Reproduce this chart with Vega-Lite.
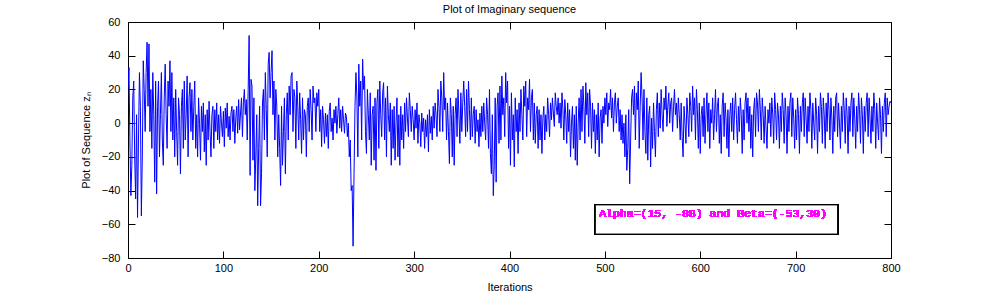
{
"$schema":"https://vega.github.io/schema/vega-lite/v6.json",
"autosize":{"type":"none"},
"width":763,"height":236,
"padding":{"left":128,"top":22,"right":94,"bottom":39},
"background":"white",
"title":{"text":"Plot of Imaginary sequence","font":"Liberation Sans","fontSize":11,"fontWeight":"normal","color":"black","offset":1},
"config":{"view":{"stroke":"black","strokeWidth":1},
"axis":{"grid":false,"domain":false,"ticks":true,"zindex":1,"tickColor":"black","tickWidth":1,"tickOpacity":1,"tickSize":7,"offset":-7,"labelFlush":false,"labelFont":"Liberation Sans","labelFontSize":11,"labelColor":"black","titleFont":"Liberation Sans","titleFontSize":11,"titleFontWeight":"normal","titleColor":"black"}},
"data":{"values":[
{"i":0,"v":20},{"i":1,"v":33},{"i":2,"v":-10},{"i":3,"v":-43},{"i":4,"v":-25},{"i":5,"v":15},{"i":6,"v":25},{"i":7,"v":-20},{"i":8,"v":-45},{"i":9,"v":5},
{"i":10,"v":-56},{"i":11,"v":-10},{"i":12,"v":30},{"i":13,"v":10},{"i":14,"v":-55},{"i":15,"v":-20},{"i":16,"v":37},{"i":17,"v":20},{"i":18,"v":-5},{"i":19,"v":30},
{"i":20,"v":48},{"i":21,"v":10},{"i":22,"v":47},{"i":23,"v":-5},{"i":24,"v":20},{"i":25,"v":-15},{"i":26,"v":30},{"i":27,"v":5},{"i":28,"v":-35},{"i":29,"v":25},
{"i":30,"v":-42},{"i":31,"v":10},{"i":32,"v":25},{"i":33,"v":-20},{"i":34,"v":5},{"i":35,"v":30},{"i":36,"v":-10},{"i":37,"v":-25},{"i":38,"v":15},{"i":39,"v":35},
{"i":40,"v":5},{"i":41,"v":-15},{"i":42,"v":25},{"i":43,"v":10},{"i":44,"v":37},{"i":45,"v":-5},{"i":46,"v":30},{"i":47,"v":-10},{"i":48,"v":15},{"i":49,"v":-20},
{"i":50,"v":20},{"i":51,"v":-5},{"i":52,"v":-25},{"i":53,"v":15},{"i":54,"v":5},{"i":55,"v":-30},{"i":56,"v":10},{"i":57,"v":20},{"i":58,"v":-15},{"i":59,"v":25},
{"i":60,"v":-10},{"i":61,"v":5},{"i":62,"v":28},{"i":63,"v":-20},{"i":64,"v":15},{"i":65,"v":24},{"i":66,"v":-5},{"i":67,"v":20},{"i":68,"v":-10},{"i":69,"v":10},
{"i":70,"v":25},{"i":71,"v":-15},{"i":72,"v":5},{"i":73,"v":-20},{"i":74,"v":15},{"i":75,"v":0},{"i":76,"v":-22},{"i":77,"v":10},{"i":78,"v":-5},{"i":79,"v":12},
{"i":80,"v":-17},{"i":81,"v":5},{"i":82,"v":-25},{"i":83,"v":8},{"i":84,"v":-10},{"i":85,"v":13},{"i":86,"v":-5},{"i":87,"v":-20},{"i":88,"v":5},{"i":89,"v":10},
{"i":90,"v":-15},{"i":91,"v":8},{"i":92,"v":-5},{"i":93,"v":12},{"i":94,"v":-10},{"i":95,"v":5},{"i":96,"v":-12},{"i":97,"v":10},{"i":98,"v":0},{"i":99,"v":-8},
{"i":100,"v":7},{"i":101,"v":-14},{"i":102,"v":9},{"i":103,"v":-3},{"i":104,"v":12},{"i":105,"v":-8},{"i":106,"v":4},{"i":107,"v":-10},{"i":108,"v":6},{"i":109,"v":10},
{"i":110,"v":-5},{"i":111,"v":8},{"i":112,"v":-12},{"i":113,"v":3},{"i":114,"v":10},{"i":115,"v":-6},{"i":116,"v":14},{"i":117,"v":-4},{"i":118,"v":6},{"i":119,"v":15},
{"i":120,"v":-8},{"i":121,"v":12},{"i":122,"v":20},{"i":123,"v":5},{"i":124,"v":14},{"i":125,"v":-10},{"i":126,"v":20},{"i":127,"v":52},{"i":128,"v":-31},{"i":129,"v":26},
{"i":130,"v":22},{"i":131,"v":-22},{"i":132,"v":15},{"i":133,"v":-40},{"i":134,"v":-20},{"i":135,"v":5},{"i":136,"v":-49},{"i":137,"v":-15},{"i":138,"v":10},{"i":139,"v":-49},
{"i":140,"v":-30},{"i":141,"v":12},{"i":142,"v":20},{"i":143,"v":-10},{"i":144,"v":30},{"i":145,"v":8},{"i":146,"v":-20},{"i":147,"v":35},{"i":148,"v":42},{"i":149,"v":15},
{"i":150,"v":30},{"i":151,"v":43},{"i":152,"v":5},{"i":153,"v":25},{"i":154,"v":-10},{"i":155,"v":20},{"i":156,"v":10},{"i":157,"v":-20},{"i":158,"v":5},{"i":159,"v":-15},
{"i":160,"v":-37},{"i":161,"v":10},{"i":162,"v":-25},{"i":163,"v":-5},{"i":164,"v":15},{"i":165,"v":-30},{"i":166,"v":5},{"i":167,"v":18},{"i":168,"v":-10},{"i":169,"v":22},
{"i":170,"v":5},{"i":171,"v":28},{"i":172,"v":30},{"i":173,"v":-5},{"i":174,"v":20},{"i":175,"v":15},{"i":176,"v":-15},{"i":177,"v":25},{"i":178,"v":10},{"i":179,"v":-10},
{"i":180,"v":18},{"i":181,"v":2},{"i":182,"v":-18},{"i":183,"v":15},{"i":184,"v":-10},{"i":185,"v":8},{"i":186,"v":5},{"i":187,"v":-20},{"i":188,"v":10},{"i":189,"v":15},
{"i":190,"v":-5},{"i":191,"v":20},{"i":192,"v":8},{"i":193,"v":-10},{"i":194,"v":22},{"i":195,"v":12},{"i":196,"v":15},{"i":197,"v":-5},{"i":198,"v":18},{"i":199,"v":10},
{"i":200,"v":20},{"i":201,"v":-5},{"i":202,"v":8},{"i":203,"v":-14},{"i":204,"v":10},{"i":205,"v":2},{"i":206,"v":-12},{"i":207,"v":6},{"i":208,"v":-8},{"i":209,"v":5},
{"i":210,"v":-15},{"i":211,"v":7},{"i":212,"v":12},{"i":213,"v":-5},{"i":214,"v":3},{"i":215,"v":-10},{"i":216,"v":8},{"i":217,"v":0},{"i":218,"v":10},{"i":219,"v":-6},
{"i":220,"v":5},{"i":221,"v":15},{"i":222,"v":-3},{"i":223,"v":8},{"i":224,"v":-5},{"i":225,"v":10},{"i":226,"v":2},{"i":227,"v":-6},{"i":228,"v":6},{"i":229,"v":4},
{"i":230,"v":-8},{"i":231,"v":0},{"i":232,"v":-20},{"i":233,"v":-10},{"i":234,"v":-40},{"i":235,"v":-37},{"i":236,"v":-73},{"i":237,"v":-30},{"i":238,"v":10},{"i":239,"v":30},
{"i":240,"v":15},{"i":241,"v":-20},{"i":242,"v":35},{"i":243,"v":10},{"i":244,"v":25},{"i":245,"v":-10},{"i":246,"v":38},{"i":247,"v":20},{"i":248,"v":28},{"i":249,"v":-5},
{"i":250,"v":-18},{"i":251,"v":20},{"i":252,"v":5},{"i":253,"v":-10},{"i":254,"v":18},{"i":255,"v":-25},{"i":256,"v":5},{"i":257,"v":10},{"i":258,"v":-22},{"i":259,"v":15},
{"i":260,"v":-28},{"i":261,"v":12},{"i":262,"v":20},{"i":263,"v":-15},{"i":264,"v":25},{"i":265,"v":5},{"i":266,"v":-8},{"i":267,"v":18},{"i":268,"v":24},{"i":269,"v":-10},
{"i":270,"v":15},{"i":271,"v":-20},{"i":272,"v":22},{"i":273,"v":5},{"i":274,"v":-5},{"i":275,"v":12},{"i":276,"v":-25},{"i":277,"v":8},{"i":278,"v":-15},{"i":279,"v":10},
{"i":280,"v":-22},{"i":281,"v":0},{"i":282,"v":15},{"i":283,"v":-20},{"i":284,"v":5},{"i":285,"v":-25},{"i":286,"v":10},{"i":287,"v":-10},{"i":288,"v":5},{"i":289,"v":-15},
{"i":290,"v":12},{"i":291,"v":-5},{"i":292,"v":15},{"i":293,"v":3},{"i":294,"v":-8},{"i":295,"v":18},{"i":296,"v":8},{"i":297,"v":-5},{"i":298,"v":10},{"i":299,"v":2},
{"i":300,"v":-10},{"i":301,"v":8},{"i":302,"v":-3},{"i":303,"v":12},{"i":304,"v":-12},{"i":305,"v":5},{"i":306,"v":0},{"i":307,"v":-14},{"i":308,"v":6},{"i":309,"v":-5},
{"i":310,"v":3},{"i":311,"v":-15},{"i":312,"v":2},{"i":313,"v":-8},{"i":314,"v":5},{"i":315,"v":-17},{"i":316,"v":8},{"i":317,"v":-6},{"i":318,"v":4},{"i":319,"v":-10},
{"i":320,"v":10},{"i":321,"v":-3},{"i":322,"v":12},{"i":323,"v":5},{"i":324,"v":-8},{"i":325,"v":20},{"i":326,"v":10},{"i":327,"v":-5},{"i":328,"v":25},{"i":329,"v":15},
{"i":330,"v":-5},{"i":331,"v":30},{"i":332,"v":8},{"i":333,"v":15},{"i":334,"v":-10},{"i":335,"v":12},{"i":336,"v":-5},{"i":337,"v":-24},{"i":338,"v":15},{"i":339,"v":5},
{"i":340,"v":-20},{"i":341,"v":10},{"i":342,"v":-25},{"i":343,"v":5},{"i":344,"v":15},{"i":345,"v":-8},{"i":346,"v":20},{"i":347,"v":5},{"i":348,"v":-12},{"i":349,"v":18},
{"i":350,"v":-5},{"i":351,"v":12},{"i":352,"v":25},{"i":353,"v":10},{"i":354,"v":-8},{"i":355,"v":20},{"i":356,"v":-5},{"i":357,"v":25},{"i":358,"v":8},{"i":359,"v":-10},
{"i":360,"v":15},{"i":361,"v":-8},{"i":362,"v":5},{"i":363,"v":10},{"i":364,"v":-12},{"i":365,"v":8},{"i":366,"v":-5},{"i":367,"v":2},{"i":368,"v":-14},{"i":369,"v":6},
{"i":370,"v":-8},{"i":371,"v":10},{"i":372,"v":-5},{"i":373,"v":12},{"i":374,"v":0},{"i":375,"v":-10},{"i":376,"v":15},{"i":377,"v":5},{"i":378,"v":-15},{"i":379,"v":20},
{"i":380,"v":-18},{"i":381,"v":-30},{"i":382,"v":5},{"i":383,"v":-43},{"i":384,"v":-25},{"i":385,"v":15},{"i":386,"v":-35},{"i":387,"v":10},{"i":388,"v":18},{"i":389,"v":-12},
{"i":390,"v":22},{"i":391,"v":-10},{"i":392,"v":28},{"i":393,"v":5},{"i":394,"v":15},{"i":395,"v":-8},{"i":396,"v":30},{"i":397,"v":12},{"i":398,"v":25},{"i":399,"v":-15},
{"i":400,"v":10},{"i":401,"v":-25},{"i":402,"v":18},{"i":403,"v":-10},{"i":404,"v":5},{"i":405,"v":-26},{"i":406,"v":15},{"i":407,"v":-5},{"i":408,"v":8},{"i":409,"v":-18},
{"i":410,"v":12},{"i":411,"v":-5},{"i":412,"v":20},{"i":413,"v":5},{"i":414,"v":-10},{"i":415,"v":22},{"i":416,"v":10},{"i":417,"v":25},{"i":418,"v":-8},{"i":419,"v":15},
{"i":420,"v":8},{"i":421,"v":26},{"i":422,"v":-5},{"i":423,"v":15},{"i":424,"v":20},{"i":425,"v":-10},{"i":426,"v":12},{"i":427,"v":-12},{"i":428,"v":5},{"i":429,"v":10},
{"i":430,"v":-15},{"i":431,"v":8},{"i":432,"v":-10},{"i":433,"v":5},{"i":434,"v":-18},{"i":435,"v":3},{"i":436,"v":10},{"i":437,"v":-10},{"i":438,"v":5},{"i":439,"v":-5},
{"i":440,"v":15},{"i":441,"v":5},{"i":442,"v":-8},{"i":443,"v":12},{"i":444,"v":2},{"i":445,"v":15},{"i":446,"v":6},{"i":447,"v":-2},{"i":448,"v":18},{"i":449,"v":10},
{"i":450,"v":5},{"i":451,"v":15},{"i":452,"v":0},{"i":453,"v":12},{"i":454,"v":-3},{"i":455,"v":18},{"i":456,"v":8},{"i":457,"v":-10},{"i":458,"v":14},{"i":459,"v":5},
{"i":460,"v":-12},{"i":461,"v":12},{"i":462,"v":-5},{"i":463,"v":8},{"i":464,"v":-20},{"i":465,"v":0},{"i":466,"v":10},{"i":467,"v":-15},{"i":468,"v":5},{"i":469,"v":-22},
{"i":470,"v":10},{"i":471,"v":-25},{"i":472,"v":0},{"i":473,"v":15},{"i":474,"v":-10},{"i":475,"v":20},{"i":476,"v":-5},{"i":477,"v":22},{"i":478,"v":10},{"i":479,"v":-12},
{"i":480,"v":24},{"i":481,"v":5},{"i":482,"v":18},{"i":483,"v":-8},{"i":484,"v":20},{"i":485,"v":10},{"i":486,"v":-15},{"i":487,"v":12},{"i":488,"v":-5},{"i":489,"v":8},
{"i":490,"v":-18},{"i":491,"v":5},{"i":492,"v":-10},{"i":493,"v":12},{"i":494,"v":-20},{"i":495,"v":3},{"i":496,"v":8},{"i":497,"v":-12},{"i":498,"v":10},{"i":499,"v":0},
{"i":500,"v":15},{"i":501,"v":5},{"i":502,"v":18},{"i":503,"v":-2},{"i":504,"v":12},{"i":505,"v":8},{"i":506,"v":20},{"i":507,"v":3},{"i":508,"v":15},{"i":509,"v":-5},
{"i":510,"v":12},{"i":511,"v":18},{"i":512,"v":0},{"i":513,"v":10},{"i":514,"v":15},{"i":515,"v":-5},{"i":516,"v":8},{"i":517,"v":-10},{"i":518,"v":5},{"i":519,"v":-12},
{"i":520,"v":0},{"i":521,"v":-20},{"i":522,"v":5},{"i":523,"v":-28},{"i":524,"v":-15},{"i":525,"v":8},{"i":526,"v":-36},{"i":527,"v":-10},{"i":528,"v":15},{"i":529,"v":20},
{"i":530,"v":5},{"i":531,"v":22},{"i":532,"v":-10},{"i":533,"v":18},{"i":534,"v":8},{"i":535,"v":25},{"i":536,"v":-15},{"i":537,"v":10},{"i":538,"v":30},{"i":539,"v":15},
{"i":540,"v":-10},{"i":541,"v":20},{"i":542,"v":-5},{"i":543,"v":-18},{"i":544,"v":15},{"i":545,"v":-22},{"i":546,"v":5},{"i":547,"v":10},{"i":548,"v":-26},{"i":549,"v":3},
{"i":550,"v":-15},{"i":551,"v":12},{"i":552,"v":-5},{"i":553,"v":-20},{"i":554,"v":8},{"i":555,"v":18},{"i":556,"v":-8},{"i":557,"v":12},{"i":558,"v":-3},{"i":559,"v":20},
{"i":560,"v":5},{"i":561,"v":-5},{"i":562,"v":15},{"i":563,"v":8},{"i":564,"v":22},{"i":565,"v":-2},{"i":566,"v":10},{"i":567,"v":18},{"i":568,"v":0},{"i":569,"v":12},
{"i":570,"v":15},{"i":571,"v":-5},{"i":572,"v":10},{"i":573,"v":20},{"i":574,"v":5},{"i":575,"v":12},{"i":576,"v":-3},{"i":577,"v":15},{"i":578,"v":5},{"i":579,"v":-10},
{"i":580,"v":12},{"i":581,"v":-8},{"i":582,"v":-20},{"i":583,"v":10},{"i":584,"v":0},{"i":585,"v":-12},{"i":586,"v":15},{"i":587,"v":5},{"i":588,"v":-8},{"i":589,"v":18},
{"i":590,"v":10},{"i":591,"v":-5},{"i":592,"v":22},{"i":593,"v":5},{"i":594,"v":15},{"i":595,"v":-10},{"i":596,"v":20},{"i":597,"v":8},{"i":598,"v":-15},{"i":599,"v":12},
{"i":600,"v":-18},{"i":601,"v":5},{"i":602,"v":10},{"i":603,"v":-8},{"i":604,"v":15},{"i":605,"v":-12},{"i":606,"v":5},{"i":607,"v":18},{"i":608,"v":-5},{"i":609,"v":12},
{"i":610,"v":-15},{"i":611,"v":8},{"i":612,"v":0},{"i":613,"v":15},{"i":614,"v":-10},{"i":615,"v":5},{"i":616,"v":20},{"i":617,"v":-5},{"i":618,"v":10},{"i":619,"v":15},
{"i":620,"v":-12},{"i":621,"v":5},{"i":622,"v":-18},{"i":623,"v":10},{"i":624,"v":18},{"i":625,"v":-8},{"i":626,"v":12},{"i":627,"v":3},{"i":628,"v":-15},{"i":629,"v":8},
{"i":630,"v":-20},{"i":631,"v":5},{"i":632,"v":12},{"i":633,"v":-5},{"i":634,"v":15},{"i":635,"v":-10},{"i":636,"v":8},{"i":637,"v":18},{"i":638,"v":2},{"i":639,"v":-12},
{"i":640,"v":10},{"i":641,"v":-5},{"i":642,"v":15},{"i":643,"v":5},{"i":644,"v":-18},{"i":645,"v":8},{"i":646,"v":-10},{"i":647,"v":12},{"i":648,"v":18},{"i":649,"v":0},
{"i":650,"v":15},{"i":651,"v":-5},{"i":652,"v":10},{"i":653,"v":-15},{"i":654,"v":5},{"i":655,"v":-20},{"i":656,"v":8},{"i":657,"v":15},{"i":658,"v":-8},{"i":659,"v":18},
{"i":660,"v":12},{"i":661,"v":-5},{"i":662,"v":20},{"i":663,"v":8},{"i":664,"v":-10},{"i":665,"v":15},{"i":666,"v":5},{"i":667,"v":-12},{"i":668,"v":10},{"i":669,"v":-3},
{"i":670,"v":-15},{"i":671,"v":8},{"i":672,"v":0},{"i":673,"v":12},{"i":674,"v":-8},{"i":675,"v":15},{"i":676,"v":5},{"i":677,"v":-12},{"i":678,"v":18},{"i":679,"v":8},
{"i":680,"v":-10},{"i":681,"v":12},{"i":682,"v":5},{"i":683,"v":-15},{"i":684,"v":10},{"i":685,"v":-5},{"i":686,"v":18},{"i":687,"v":8},{"i":688,"v":-12},{"i":689,"v":15},
{"i":690,"v":5},{"i":691,"v":-18},{"i":692,"v":10},{"i":693,"v":-5},{"i":694,"v":12},{"i":695,"v":18},{"i":696,"v":-8},{"i":697,"v":15},{"i":698,"v":3},{"i":699,"v":-15},
{"i":700,"v":8},{"i":701,"v":-10},{"i":702,"v":15},{"i":703,"v":5},{"i":704,"v":-18},{"i":705,"v":10},{"i":706,"v":-5},{"i":707,"v":12},{"i":708,"v":18},{"i":709,"v":-8},
{"i":710,"v":15},{"i":711,"v":3},{"i":712,"v":-12},{"i":713,"v":10},{"i":714,"v":-5},{"i":715,"v":18},{"i":716,"v":8},{"i":717,"v":-15},{"i":718,"v":12},{"i":719,"v":0},
{"i":720,"v":-10},{"i":721,"v":15},{"i":722,"v":5},{"i":723,"v":-18},{"i":724,"v":10},{"i":725,"v":-5},{"i":726,"v":18},{"i":727,"v":10},{"i":728,"v":-12},{"i":729,"v":15},
{"i":730,"v":5},{"i":731,"v":-15},{"i":732,"v":12},{"i":733,"v":-5},{"i":734,"v":18},{"i":735,"v":8},{"i":736,"v":-10},{"i":737,"v":15},{"i":738,"v":3},{"i":739,"v":-18},
{"i":740,"v":10},{"i":741,"v":-5},{"i":742,"v":15},{"i":743,"v":18},{"i":744,"v":-8},{"i":745,"v":12},{"i":746,"v":0},{"i":747,"v":-15},{"i":748,"v":10},{"i":749,"v":-5},
{"i":750,"v":18},{"i":751,"v":8},{"i":752,"v":-12},{"i":753,"v":15},{"i":754,"v":5},{"i":755,"v":-18},{"i":756,"v":10},{"i":757,"v":-5},{"i":758,"v":12},{"i":759,"v":18},
{"i":760,"v":-8},{"i":761,"v":15},{"i":762,"v":3},{"i":763,"v":-15},{"i":764,"v":10},{"i":765,"v":-5},{"i":766,"v":18},{"i":767,"v":8},{"i":768,"v":-12},{"i":769,"v":15},
{"i":770,"v":5},{"i":771,"v":-18},{"i":772,"v":10},{"i":773,"v":-5},{"i":774,"v":12},{"i":775,"v":18},{"i":776,"v":-8},{"i":777,"v":15},{"i":778,"v":3},{"i":779,"v":-12},
{"i":780,"v":10},{"i":781,"v":-5},{"i":782,"v":18},{"i":783,"v":8},{"i":784,"v":-15},{"i":785,"v":12},{"i":786,"v":0},{"i":787,"v":-10},{"i":788,"v":15},{"i":789,"v":5},
{"i":790,"v":-18},{"i":791,"v":10},{"i":792,"v":-5},{"i":793,"v":12},{"i":794,"v":18},{"i":795,"v":-8},{"i":796,"v":15},{"i":797,"v":5},{"i":798,"v":10},{"i":799,"v":13},
{"i":800,"v":12}
]},
"layer":[
{"mark":{"type":"line","color":"#0000ff","strokeWidth":1,"clip":true},
"encoding":{
"x":{"field":"i","type":"quantitative","scale":{"domain":[0,800],"nice":false,"zero":false},"axis":{"orient":"bottom","values":[0,100,200,300,400,500,600,700,800],"title":"Iterations","labelPadding":4,"titlePadding":8}},
"y":{"field":"v","type":"quantitative","scale":{"domain":[-80,60],"nice":false,"zero":false},"axis":{"orient":"left","values":[-80,-60,-40,-20,0,20,40,60],"title":"Plot of Sequence zₙ","labelPadding":8,"titlePadding":10}}}},
{"mark":{"type":"point","opacity":0},
"encoding":{
"x":{"field":"i","type":"quantitative","axis":{"orient":"top","values":[0,100,200,300,400,500,600,700,800],"labels":false,"title":null}},
"y":{"field":"v","type":"quantitative","axis":{"orient":"right","values":[-80,-60,-40,-20,0,20,40,60],"labels":false,"title":null}}}},
{"mark":{"type":"rect","fill":"white","stroke":"black","strokeWidth":1},
"encoding":{"x":{"datum":490,"type":"quantitative","axis":null},"x2":{"datum":744},"y":{"datum":-48.5,"type":"quantitative","axis":null},"y2":{"datum":-65.8}}},
{"mark":{"type":"text","text":"Alpha=(15, -88) and Beta=(-53,30)","color":"#ff00ff","font":"Liberation Mono","fontSize":11.5,"align":"left","baseline":"middle"},
"encoding":{"x":{"datum":494,"type":"quantitative","axis":null},"y":{"datum":-54,"type":"quantitative","axis":null}}}
],
"resolve":{"axis":{"x":"independent","y":"independent"}}
}
